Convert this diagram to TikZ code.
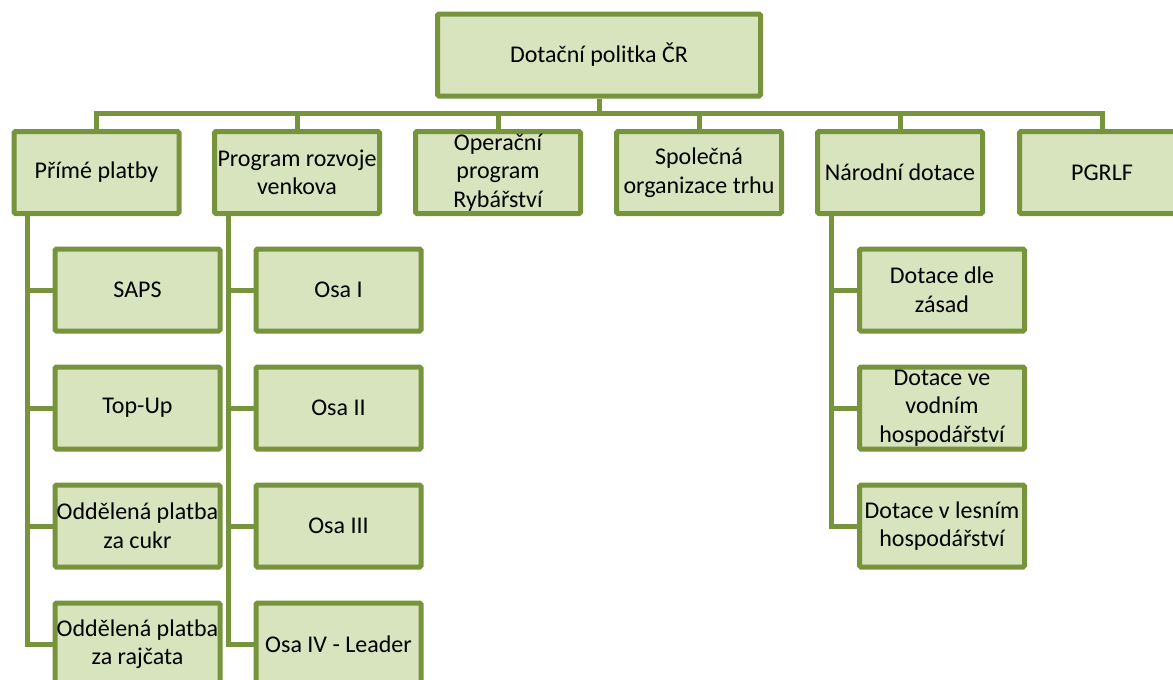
\documentclass[tikz,border=0pt]{standalone}
\usepackage{fontspec}
\setmainfont{Carlito}
\usepackage{xcolor}
\usepackage{tikz}
\definecolor{vertclair}{HTML}{D7E4BD}
\definecolor{vertfonce}{HTML}{77933C}

\begin{document}
\begin{tikzpicture}[x=1pt,y=-1pt]
% Styles
\tikzstyle{lien}=[draw=vertfonce,line width=5pt]
\tikzstyle{boite}=[fill=vertclair,draw=vertfonce,line width=5pt,rounded corners=1.5pt,
  minimum width=165pt,minimum height=82pt,inner sep=0pt,align=center,
  font=\fontsize{24}{28.5}\selectfont]
\tikzstyle{racine}=[boite,minimum width=323pt]
% Dimensions
\def\NiveauA{55}
\def\NiveauB{172.5}
\def\NiveauBus{113}
\def\DecalageTronc{16pt}
% Cadre
\clip (0,0) rectangle (1173,680);
% Noeuds
\node[racine] (R) at (599,\NiveauA) {Dotační politka ČR};
\node[boite] (Ra) at (96.5,\NiveauB) {Přímé platby};
\node[boite] (Rb) at (297,\NiveauB) {Program rozvoje\\venkova};
\node[boite] (Rc) at (498,\NiveauB) {Operační\\program\\Rybářství};
\node[boite] (Rd) at (699,\NiveauB) {Společná\\organizace trhu};
\node[boite] (Re) at (900,\NiveauB) {Národní dotace};
\node[boite] (Rf) at (1102,\NiveauB) {PGRLF};
\node[boite] (Raa) at (137.5,290) {SAPS};
\node[boite] (Rab) at (137.5,408) {Top-Up};
\node[boite] (Rac) at (137.5,526) {Oddělená platba\\za cukr};
\node[boite] (Rad) at (137.5,644) {Oddělená platba\\za rajčata};
\node[boite] (Rba) at (338.5,290) {Osa I};
\node[boite] (Rbb) at (338.5,408) {Osa II};
\node[boite] (Rbc) at (338.5,526) {Osa III};
\node[boite] (Rbd) at (338.5,644) {Osa IV - Leader};
\node[boite] (Rea) at (942,290) {Dotace dle\\zásad};
\node[boite] (Reb) at (942,408) {Dotace ve\\vodním\\hospodářství};
\node[boite] (Rec) at (942,526) {Dotace v lesním\\hospodářství};
% Arcs
\coordinate (bus) at (599,\NiveauBus);
\draw[lien] (R.south) -- (bus);
\draw[lien] (bus) -| (Ra.north);
\draw[lien] (bus) -| (Rb.north);
\draw[lien] (bus) -| (Rc.north);
\draw[lien] (bus) -| (Rd.north);
\draw[lien] (bus) -| (Re.north);
\draw[lien] (bus) -| (Rf.north);
\draw[lien] ([xshift=\DecalageTronc]Ra.south west) |- (Raa.west);
\draw[lien] ([xshift=\DecalageTronc]Ra.south west) |- (Rab.west);
\draw[lien] ([xshift=\DecalageTronc]Ra.south west) |- (Rac.west);
\draw[lien] ([xshift=\DecalageTronc]Ra.south west) |- (Rad.west);
\draw[lien] ([xshift=\DecalageTronc]Rb.south west) |- (Rba.west);
\draw[lien] ([xshift=\DecalageTronc]Rb.south west) |- (Rbb.west);
\draw[lien] ([xshift=\DecalageTronc]Rb.south west) |- (Rbc.west);
\draw[lien] ([xshift=\DecalageTronc]Rb.south west) |- (Rbd.west);
\draw[lien] ([xshift=\DecalageTronc]Re.south west) |- (Rea.west);
\draw[lien] ([xshift=\DecalageTronc]Re.south west) |- (Reb.west);
\draw[lien] ([xshift=\DecalageTronc]Re.south west) |- (Rec.west);
\end{tikzpicture}
\end{document}
